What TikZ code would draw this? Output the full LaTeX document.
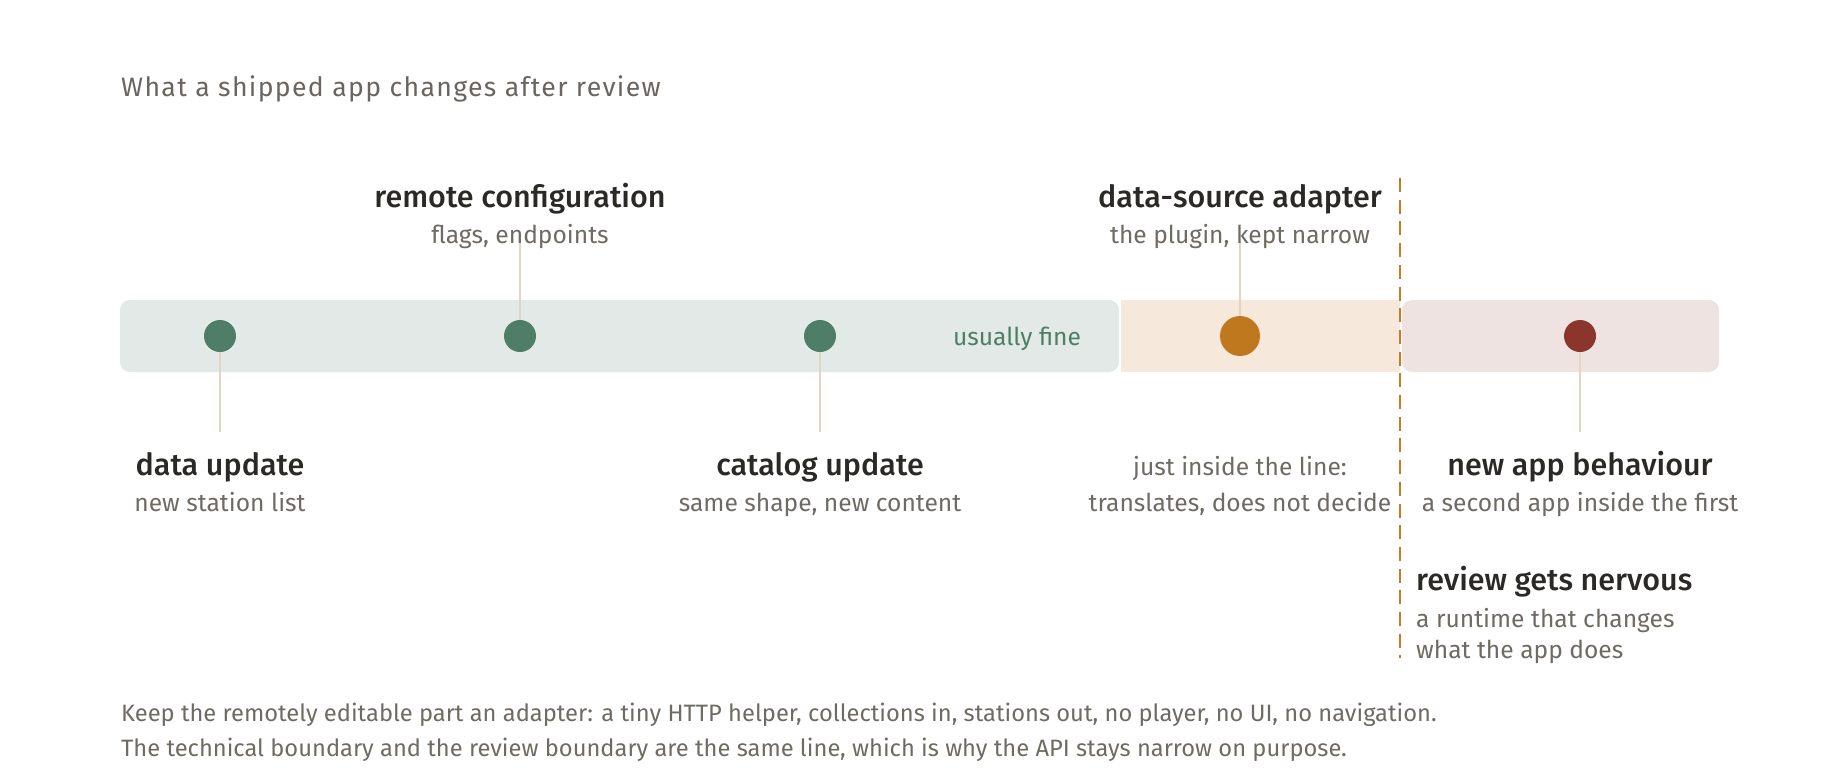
\documentclass[tikz,border=0pt]{standalone}
\usepackage{fontspec}
\setmainfont{Fira Sans}
\newfontfamily\hfont{Fira Sans Medium}
\newfontfamily\tfont{Fira Sans}[LetterSpace=5]
\definecolor{ink}{HTML}{2B2925}
\definecolor{muted}{HTML}{6F6A62}
\definecolor{ttl}{HTML}{6B655D}
\definecolor{bandG}{HTML}{E3E9E6}
\definecolor{bandO}{HTML}{F6E9DC}
\definecolor{bandR}{HTML}{EFE3E2}
\definecolor{dotG}{HTML}{4E7E67}
\definecolor{dotO}{HTML}{C0781F}
\definecolor{dotR}{HTML}{8B352B}
\definecolor{leader}{HTML}{E2D6C3}
\definecolor{fence}{HTML}{C57D22}
\tikzset{
  head/.style={inner sep=0pt, anchor=base, text=ink, font=\hfont\fontsize{30.5}{36}\selectfont},
  sub/.style={inner sep=0pt, anchor=base, text=muted, font=\fontsize{24.6}{30}\selectfont},
  body/.style={inner sep=0pt, anchor=base west, text=muted, font=\fontsize{23.7}{28}\selectfont},
  leadline/.style={draw=leader, line width=1.6pt},
  dotnode/.style={circle, inner sep=0pt, minimum size=32pt},
}
\begin{document}
\begin{tikzpicture}[x=1pt,y=-1pt]
\useasboundingbox (0,0) rectangle (1840,780);
% title
\node[inner sep=0pt, anchor=base west, text=ttl, font=\tfont\fontsize{26.65}{32}\selectfont] (title) at (121,96) {What a shipped app changes after review};
% bands
\fill[bandG, rounded corners=10pt] (120,300) rectangle (1119,372);
\fill[bandO] (1121,300) rectangle (1400,372);
\fill[bandR, rounded corners=10pt] (1402,300) rectangle (1719,372);
% dot coordinates
\coordinate (c1) at (220,336);
\coordinate (c2) at (520,336);
\coordinate (c3) at (820,336);
\coordinate (c4) at (1240,336);
\coordinate (c5) at (1580,336);
\coordinate (e1) at (220,432);
\coordinate (e2) at (520,242);
\coordinate (e3) at (820,432);
\coordinate (e4) at (1240,241);
\coordinate (e5) at (1580,432);
% leaders
\draw[leadline] (c1) -- (e1);
\draw[leadline] (c2) -- (e2);
\draw[leadline] (c3) -- (e3);
\draw[leadline] (c4) -- (e4);
\draw[leadline] (c5) -- (e5);
% dots
\node[dotnode, fill=dotG] (d1) at (c1) {};
\node[dotnode, fill=dotG] (d2) at (c2) {};
\node[dotnode, fill=dotG] (d3) at (c3) {};
\node[dotnode, fill=dotO, minimum size=40pt] (d4) at (c4) {};
\node[dotnode, fill=dotR] (d5) at (c5) {};
% band label
\node[sub, text=dotG] (fine) at (1017,345) {usually fine};
% labels above
\node[head] (h2) at (520,207) {remote configuration};
\node[sub] (s2) at (520,243) {flags, endpoints};
\node[head] (h4) at (1240,207) {data-source adapter};
\node[sub] (s4) at (1240,243) {the plugin, kept narrow};
% labels below
\node[head] (h1) at (220,475) {data update};
\node[sub] (s1) at (220,511) {new station list};
\node[head] (h3) at (820,475) {catalog update};
\node[sub] (s3) at (820,511) {same shape, new content};
\node[sub] (j1) at (1240,475) {just inside the line:};
\node[sub] (j2) at (1240,511) {translates, does not decide};
\node[head] (h5) at (1580,475) {new app behaviour};
\node[sub] (s5) at (1580,511) {a second app inside the first};
% boundary
\coordinate (f1) at (1400,178);
\coordinate (f2) at (1400,658);
\draw[fence, line width=2.6pt, dash pattern=on 14pt off 7.7pt] (f1) -- (f2);
\node[head, anchor=base west] (h6) at (1416,590) {review gets nervous};
\node[sub, anchor=base west] (s6a) at (1416,627) {a runtime that changes};
\node[sub, anchor=base west] (s6b) at (1416,658) {what the app does};
% footer
\node[body] (b1) at (121,721) {Keep the remotely editable part an adapter: a tiny HTTP helper, collections in, stations out, no player, no UI, no navigation.};
\node[body] (b2) at (121,756) {The technical boundary and the review boundary are the same line, which is why the API stays narrow on purpose.};
\end{tikzpicture}
\end{document}
